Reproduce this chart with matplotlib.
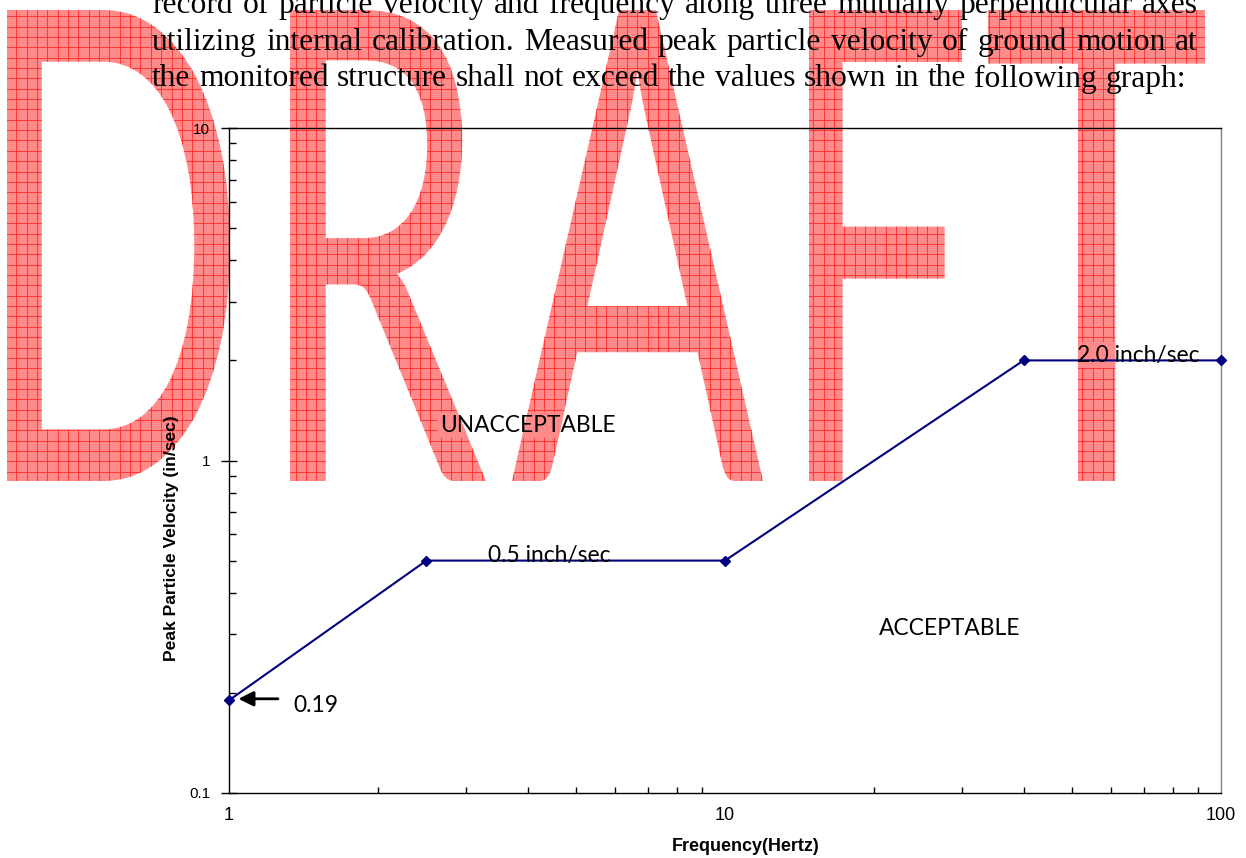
import numpy as np
import matplotlib
matplotlib.use("Agg")
import matplotlib.pyplot as plt
from matplotlib.textpath import TextPath
from matplotlib.font_manager import FontProperties
from matplotlib.patches import PathPatch, Rectangle
from matplotlib.path import Path
from matplotlib.transforms import Affine2D
from matplotlib.collections import LineCollection
from matplotlib.ticker import FixedLocator, FixedFormatter, NullFormatter, LogLocator

# vibration limit curve
freq_hz = [1, 2.5, 10, 40, 100]
ppv_in_s = [0.19, 0.5, 0.5, 2.0, 2.0]

x_ticks = [1, 10, 100]
x_tick_labels = ["1", "10", "100"]
y_ticks = [0.1, 1, 10]
y_tick_labels = ["0.1", "1", "10"]

para_lines = [
    "record of particle velocity and frequency  along  three  mutually  perpendicular  axes",
    "utilizing internal calibration.  Measured peak particle velocity of ground  motion at",
    "the monitored structure shall not exceed the values shown in the  following graph:",
]

W, H = 1246, 858
PINK = "#ff8a8a"

fig = plt.figure(figsize=(W / 100, H / 100), dpi=100)
fig.patch.set_facecolor("white")
# image pixel coords (y down) -> figure
px = Affine2D().scale(1 / W, -1 / H).translate(0, 1) + fig.transFigure

# ---- DRAFT watermark ----
wm_font = FontProperties(family="Lato")
letter_boxes = {"D": (7, 230), "R": (290, 486), "A": (512, 763), "F": (809, 962), "T": (988, 1205)}
top, bottom = 10, 481
paths = []
for ch, (xa, xb) in letter_boxes.items():
    tp = TextPath((0, 0), ch, size=100, prop=wm_font)
    ext = tp.get_extents()
    sx = (xb - xa) / ext.width
    sy = -(bottom - top) / ext.height
    tr = Affine2D().translate(-ext.x0, -ext.y0).scale(sx, sy).translate(xa, bottom)
    paths.append(tr.transform_path(tp))
draft_path = Path.make_compound_path(*paths)
draft = PathPatch(draft_path, transform=px, facecolor=PINK, edgecolor="none", zorder=-3)
fig.add_artist(draft)

step = 10.35
segs = [[(x, 0), (x, H)] for x in np.arange(47.3 - 5 * step, W, step)]
segs += [[(0, y), (W, y)] for y in np.arange(16.3 - step, H, step)]
grid = LineCollection(segs, colors="#ff2a2a", linewidths=0.6, transform=px, zorder=-2)
grid.set_clip_path(draft)
fig.add_artist(grid)

# ---- paragraph text (justified) ----
renderer = fig.canvas.get_renderer()
probe = fig.text(0, 0, para_lines[2], family="Liberation Serif", fontsize=21)
para_size = 21 * 1034 / probe.get_window_extent(renderer).width
probe.remove()

line_specs = [(12.7, 1198), (50, 1198), (86.5, 1186)]
for line, (base_y, x_end) in zip(para_lines, line_specs):
    words = line.split()
    objs = [fig.text(0, base_y, w, transform=px, family="Liberation Serif", fontsize=para_size,
                     va="baseline", ha="left", color="black") for w in words]
    widths = [t.get_window_extent(renderer).width for t in objs]
    gap = (x_end - 152 - sum(widths)) / (len(words) - 1)
    xpos = 152
    for t, w in zip(objs, widths):
        t.set_x(xpos)
        xpos += w + gap

# ---- chart ----
ax = fig.add_axes([229 / W, 65 / H, 992 / W, 665 / H])
ax.set_facecolor("none")
ax.set_xscale("log")
ax.set_yscale("log")
ax.set_xlim(1, 100)
ax.set_ylim(0.1, 10)

ax.plot(freq_hz, ppv_in_s, color="#000080", lw=1.5, marker="D", ms=5, clip_on=False, zorder=3)

ax.xaxis.set_major_locator(FixedLocator(x_ticks))
ax.xaxis.set_major_formatter(FixedFormatter(x_tick_labels))
ax.yaxis.set_major_locator(FixedLocator(y_ticks))
ax.yaxis.set_major_formatter(FixedFormatter(y_tick_labels))
ax.xaxis.set_minor_locator(LogLocator(base=10, subs=np.arange(2, 10)))
ax.yaxis.set_minor_locator(LogLocator(base=10, subs=np.arange(2, 10)))
ax.xaxis.set_minor_formatter(NullFormatter())
ax.yaxis.set_minor_formatter(NullFormatter())

ax.tick_params(axis="x", which="major", length=0, pad=10, labelsize=13)
ax.tick_params(axis="x", which="minor", direction="in", length=4, width=1)
ax.tick_params(axis="y", which="major", direction="inout", length=11, width=1, pad=8, labelsize=11)
ax.tick_params(axis="y", which="minor", direction="in", length=5, width=1)
for lab in ax.get_xticklabels() + ax.get_yticklabels():
    lab.set_family("Liberation Sans")

for side in ["left", "bottom", "top"]:
    ax.spines[side].set_color("black")
    ax.spines[side].set_linewidth(1)
ax.spines["right"].set_color("#808080")
ax.spines["right"].set_linewidth(1)

ax.set_xlabel("Frequency(Hertz)", family="Liberation Sans", fontweight="bold", fontsize=13, va="center")
ax.xaxis.set_label_coords(0.521, -0.0812)
ax.set_ylabel("Peak Particle Velocity (in/sec)", family="Liberation Sans", fontweight="bold",
              fontsize=12.6, va="center")
ax.yaxis.set_label_coords(-0.058, 0.3835)

notes = [
    ("UNACCEPTABLE", 2.66, 1.22),
    ("ACCEPTABLE", 20.4, 0.299),
    ("0.5 inch/sec", 3.33, 0.496),
    ("2.0 inch/sec", 51.2, 1.98),
    ("0.19", 1.346, 0.175),
]
for txt, x, y in notes:
    t = ax.text(x, y, txt, family="Lato", fontsize=16.4, ha="left", va="baseline", zorder=4)
    # text frame hides the watermark grid (solid pink where it overlaps a letter)
    bb = t.get_window_extent(renderer)
    frame = Rectangle((bb.x0 - 2, H - bb.y1 - 3), bb.width + 4, bb.height + 5, transform=px,
                      facecolor=PINK, edgecolor="none", zorder=-1)
    frame.set_clip_path(draft)
    fig.add_artist(frame)

ax.annotate("", xy=(1.045, 0.192), xytext=(1.255, 0.192),
            arrowprops=dict(arrowstyle="-|>,head_length=0.9,head_width=0.45", color="black", lw=2,
                            shrinkA=0, shrinkB=0))

fig.savefig("out.png", dpi=100)
